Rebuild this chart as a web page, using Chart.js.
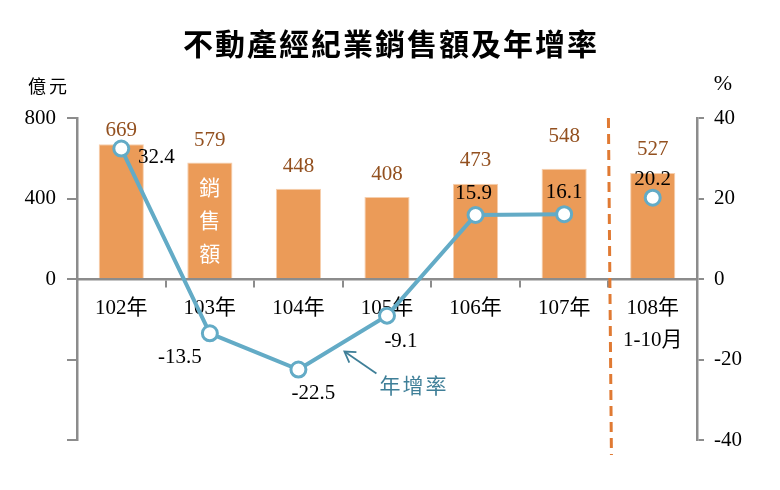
<!DOCTYPE html>
<html>
<head>
<meta charset="utf-8">
<script src="https://cdn.jsdelivr.net/npm/chart.js@4.4.0/dist/chart.umd.min.js"></script>
<style>
html,body{margin:0;padding:0;background:#fff;}
#wrap{width:780px;height:490px;position:relative;}
</style>
</head>
<body>
<div id="wrap"><canvas id="c" width="780" height="490"></canvas></div>
<script>
const categories = [['102年'], ['103年'], ['104年'], ['105年'], ['106年'], ['107年'], ['108年', '1-10月']];
const salesValues = [669, 579, 448, 408, 473, 548, 527];
const growthValues = [32.4, -13.5, -22.5, -9.1, 15.9, 16.1, 20.2];
const leftTicks = [800, 400, 0];
const rightTicks = [40, 20, 0, -20, -40];

const SERIF = "'Liberation Serif', 'Noto Sans CJK TC', serif";
const CJK = "'Noto Sans CJK TC', sans-serif";
const AXIS_GRAY = '#8c8c8c';
const BAR_COLOR = '#eb9b58';
const LINE_COLOR = '#63abc6';
const BAR_LABEL_COLOR = '#93501f';

// label placement styles (offsets from data point, in px)
const barLabelGap = [14, 22, 22, 22, 23, 32, 23];
const lineLabelOffsets = [[35, 9], [-30, 24], [15, 24], [14, 26], [-2, -22], [0, -22], [0, -18]];

const overlay = {
  id: 'overlay',
  afterDatasetDraw(chart, args) {
    if (args.index !== 0) return;
    const ctx = chart.ctx;
    const meta = chart.getDatasetMeta(0);
    ctx.save();
    ctx.font = '21px ' + SERIF;
    ctx.fillStyle = BAR_LABEL_COLOR;
    ctx.textAlign = 'center';
    ctx.textBaseline = 'middle';
    meta.data.forEach((bar, i) => {
      ctx.fillText(String(salesValues[i]), bar.x, bar.y - barLabelGap[i]);
    });
    // vertical label inside 103 bar
    const b = meta.data[1];
    ctx.font = '21px ' + CJK;
    ctx.fillStyle = '#ffffff';
    ['銷', '售', '額'].forEach((ch, k) => {
      ctx.fillText(ch, b.x, b.y + 25 + k * 33);
    });
    ctx.restore();
  },
  afterDatasetsDraw(chart) {
    const ctx = chart.ctx;
    const meta = chart.getDatasetMeta(1);
    const area = chart.chartArea;
    const x = chart.scales.x;
    ctx.save();
    // line labels
    ctx.font = '21px ' + SERIF;
    ctx.fillStyle = '#000';
    ctx.textAlign = 'center';
    ctx.textBaseline = 'middle';
    meta.data.forEach((pt, i) => {
      const o = lineLabelOffsets[i];
      ctx.fillText(growthValues[i].toFixed(1), pt.x + o[0], pt.y + o[1]);
    });
    // dashed separator between 107 and 108
    const sx = (x.getPixelForValue(5) + x.getPixelForValue(6)) / 2;
    ctx.strokeStyle = '#e07a33';
    ctx.lineWidth = 3;
    ctx.setLineDash([10, 6]);
    ctx.beginPath();
    ctx.moveTo(sx, area.top);
    ctx.lineTo(sx + 3, area.bottom + 15);
    ctx.stroke();
    ctx.setLineDash([]);
    // annotation arrow + label (relative to the 104 point)
    const p = meta.data[2];
    const ax = p.x + 46, ay = p.y - 18;
    const tx = p.x + 78, ty = p.y + 4;
    ctx.strokeStyle = '#3f7f98';
    ctx.lineWidth = 1.8;
    ctx.beginPath();
    ctx.moveTo(tx, ty);
    ctx.lineTo(ax, ay);
    ctx.stroke();
    const ang = Math.atan2(ty - ay, tx - ax);
    ctx.beginPath();
    ctx.moveTo(ax + 12 * Math.cos(ang - 0.55), ay + 12 * Math.sin(ang - 0.55));
    ctx.lineTo(ax, ay);
    ctx.lineTo(ax + 12 * Math.cos(ang + 0.55), ay + 12 * Math.sin(ang + 0.55));
    ctx.stroke();
    ctx.font = '21px ' + CJK;
    ctx.fillStyle = '#3f7f98';
    ctx.textAlign = 'left';
    ctx.letterSpacing = '2px';
    ctx.fillText('年增率', p.x + 81, p.y + 15);
    ctx.letterSpacing = '0px';
    // title
    ctx.font = 'bold 30px ' + CJK;
    ctx.fillStyle = '#000';
    ctx.textAlign = 'center';
    ctx.letterSpacing = '2px';
    ctx.fillText('不動產經紀業銷售額及年增率', 391, 44);
    // units
    ctx.font = '18px ' + CJK;
    ctx.letterSpacing = '3px';
    ctx.fillText('億元', 49, 86);
    ctx.letterSpacing = '0px';
    ctx.font = '22px ' + SERIF;
    ctx.fillText('%', 723, 84);
    ctx.restore();
  }
};

new Chart(document.getElementById('c'), {
  data: {
    labels: categories,
    datasets: [
      {
        type: 'bar',
        data: salesValues,
        yAxisID: 'y',
        backgroundColor: BAR_COLOR,
        borderColor: '#f6cfae',
        borderWidth: 1,
        barPercentage: 0.51,
        categoryPercentage: 1,
        order: 2
      },
      {
        type: 'line',
        data: growthValues,
        yAxisID: 'y2',
        borderColor: LINE_COLOR,
        borderWidth: 4,
        pointRadius: 7.5,
        pointBorderWidth: 3,
        pointBackgroundColor: '#ffffff',
        pointBorderColor: LINE_COLOR,
        tension: 0,
        segment: {
          borderColor: c => (c.p1DataIndex === 6 ? 'rgba(0,0,0,0)' : LINE_COLOR)
        },
        order: 1
      }
    ]
  },
  options: {
    responsive: false,
    animation: false,
    devicePixelRatio: 1,
    layout: { padding: { top: 118, bottom: 50, left: 0, right: 0 } },
    plugins: { legend: { display: false }, tooltip: { enabled: false }, title: { display: false } },
    scales: {
      x: {
        type: 'category',
        position: { y: 0 },
        offset: true,
        grid: { display: true, drawOnChartArea: false, drawTicks: true, tickLength: 7, color: AXIS_GRAY, lineWidth: 2, offset: true },
        border: { display: true, color: AXIS_GRAY, width: 2.5 },
        ticks: { color: '#000', font: { family: SERIF, size: 21, lineHeight: 1.5 }, padding: 7, maxRotation: 0, autoSkip: false }
      },
      y: {
        position: 'left',
        min: -800, max: 800,
        afterFit: s => { s.width = 77; },
        afterBuildTicks: s => { s.ticks = [800, 400, 0, -400, -800].map(v => ({ value: v })); },
        grid: { drawOnChartArea: false, drawTicks: true, tickLength: 10, color: AXIS_GRAY, lineWidth: 2 },
        border: { display: true, color: AXIS_GRAY, width: 2.5 },
        ticks: {
          color: '#000', font: { family: SERIF, size: 21 }, padding: 11,
          callback: v => (leftTicks.includes(v) ? String(v) : '')
        }
      },
      y2: {
        position: 'right',
        min: -40, max: 40,
        afterFit: s => { s.width = 83; },
        afterBuildTicks: s => { s.ticks = rightTicks.map(v => ({ value: v })); },
        grid: { drawOnChartArea: false, drawTicks: true, tickLength: 7, color: AXIS_GRAY, lineWidth: 2 },
        border: { display: true, color: AXIS_GRAY, width: 2.5 },
        ticks: { color: '#000', font: { family: SERIF, size: 21 }, padding: 10 }
      }
    }
  },
  plugins: [overlay]
});
</script>
</body>
</html>
